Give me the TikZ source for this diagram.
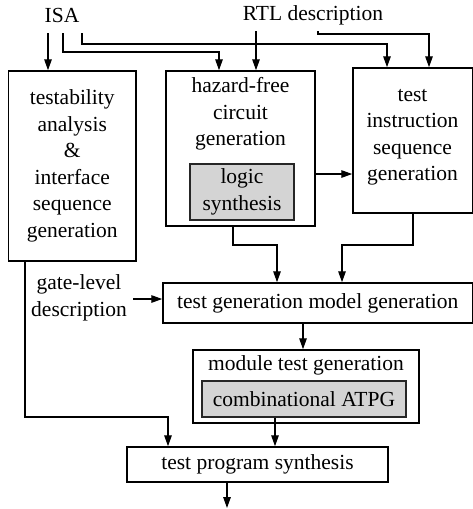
\documentclass[tikz,border=0pt]{standalone}
\usepackage{fontspec}
\setmainfont{Liberation Serif}
\usetikzlibrary{arrows.meta}
\begin{document}
\begin{tikzpicture}[x=1pt,y=-1pt,
  every node/.style={font=\fontsize{21.5}{26.5}\selectfont, inner sep=0pt},
  box/.style={draw, line width=1.5pt, align=center},
  graybox/.style={box, line width=1.8pt, draw=black!85, fill=black!17},
  lbl/.style={align=center},
  arr/.style={line width=1.4pt, -{Stealth[length=11pt,width=7.5pt,inset=0pt]}},
  ln/.style={line width=1.4pt}]
\useasboundingbox (0,0) rectangle (473,509);

% inputs
\node (isa) at (62,15) {ISA};
\node (rtl) at (313,15) {RTL description};

% first row of boxes
\node[box, minimum width=127.5pt, minimum height=190pt] (left) at (72.25,166) {};
\node[lbl] (lefttxt) at (72.25,166) {testability\\analysis\\\&\\interface\\sequence\\generation};

\node[box, minimum width=149pt, minimum height=155pt] (mid) at (240.5,148.5) {};
\node[lbl] (midtxt) at (240.5,114) {hazard-free\\circuit\\generation};
\node[graybox, minimum width=104pt, minimum height=56pt] (logic) at (242,192) {logic\\synthesis};

\node[box, minimum width=119.5pt, minimum height=145pt] (right) at (412.75,140.5) {};
\node[lbl] (righttxt) at (412.5,137.5) {test\\instruction\\sequence\\generation};

% lower boxes
\node[box, minimum width=309.5pt, minimum height=40pt] (tgm) at (317.75,303) {test generation model generation};
\node[lbl] (gate) at (79,298) {gate-level\\description};

\node[box, minimum width=226pt, minimum height=73pt] (mtg) at (306,386.5) {};
\node (mtgtxt) at (306,365) {module test generation};
\node[graybox, minimum width=204pt, minimum height=36pt] (atpg) at (304,399) {combinational ATPG};

\node[box, minimum width=261pt, minimum height=35pt] (tps) at (257.5,464.5) {test program synthesis};

% connector turning points
\coordinate (i1) at (48,33);
\coordinate (i2) at (63,33);
\coordinate (i3) at (82,33);
\coordinate (r1) at (256,31);
\coordinate (r2) at (318,31);
\coordinate (out) at (227,508);

% ISA and RTL feeds
\draw[arr] (i1) -- (i1 |- left.north);
\draw[arr] (i2) -- (63,52) -- (219,52) -- (219,0 |- mid.north);
\draw[arr] (i3) -- (82,44) -- (387,44) -- (387,0 |- right.north);
\draw[arr] (r1) -- (r1 |- mid.north);
\draw[arr] (r2) -- (318,34) -- (429,34) -- (429,0 |- right.north);

% middle to right
\draw[arr] (mid.east |- 0,174) -- (right.west |- 0,174);

% into the model generation
\draw[arr] (233,0 |- mid.south) -- (233,245) -- (277,245) -- (277,0 |- tgm.north);
\draw[arr] (413,0 |- right.south) -- (413,245) -- (342,245) -- (342,0 |- tgm.north);
\draw[arr] (133,299) -- (tgm.west |- 0,299);

% down the chain
\draw[arr] (303,0 |- tgm.south) -- (303,0 |- mtg.north);
\draw[arr] (275,0 |- atpg.south) -- (275,0 |- tps.north);
\draw[arr] (25,0 |- left.south) -- (25,417) -- (168,417) -- (168,0 |- tps.north);
\draw[arr] (out |- tps.south) -- (out);
\end{tikzpicture}
\end{document}
